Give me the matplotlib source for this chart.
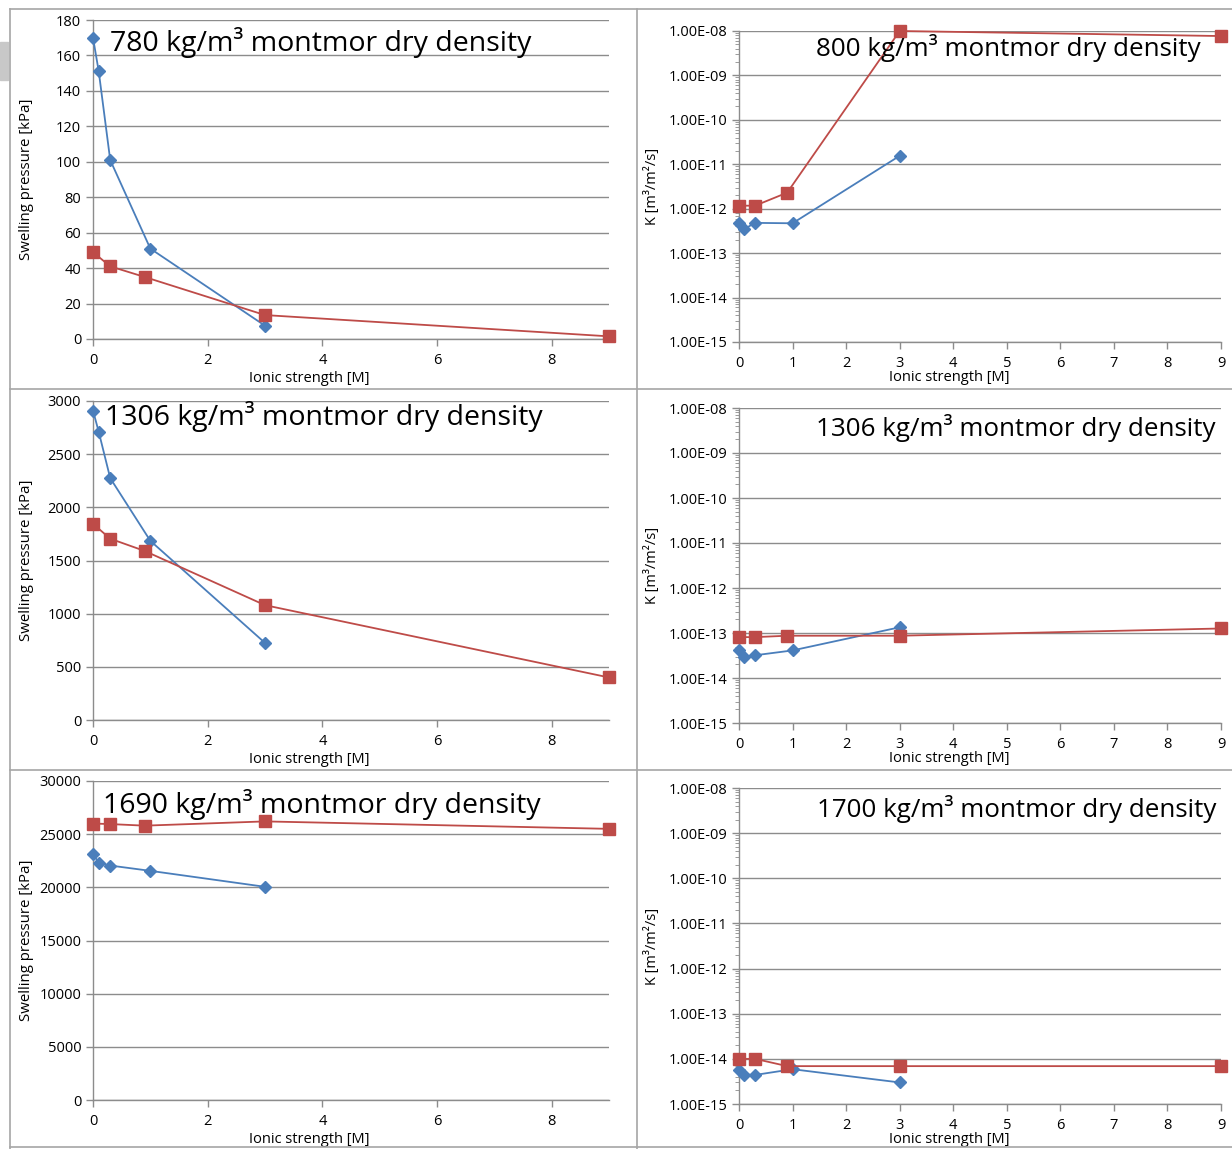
import numpy as np
import matplotlib
matplotlib.use("Agg")
import matplotlib.pyplot as plt
from matplotlib.lines import Line2D
from matplotlib.patches import Rectangle
from matplotlib.ticker import FixedLocator, LogLocator, NullFormatter, FuncFormatter

plt.rcParams['font.family'] = ['Open Sans', 'DejaVu Sans']

# ionic strength [M]
x_blue = [0, 0.1, 0.3, 1, 3]
x_red = [0, 0.3, 0.9, 3, 9]

# swelling pressure [kPa]
p780_blue = [170, 151, 101, 51, 7.5]
p780_red = [49, 41, 35, 13.5, 1.5]
p1306_blue = [2910, 2710, 2275, 1685, 725]
p1306_red = [1845, 1705, 1590, 1080, 400]
p1690_blue = [23150, 22300, 22050, 21550, 20050]
p1690_red = [26000, 25950, 25800, 26200, 25500]

# hydraulic conductivity K [m3/m2/s]
k800_blue = [4.7e-13, 3.5e-13, 4.8e-13, 4.7e-13, 1.55e-11]
k800_red = [1.17e-12, 1.17e-12, 2.3e-12, 1.0e-8, 7.7e-9]
k1306_blue = [4.1e-14, 2.9e-14, 3.2e-14, 4.1e-14, 1.34e-13]
k1306_red = [8.1e-14, 8.1e-14, 8.7e-14, 8.7e-14, 1.26e-13]
k1700_blue = [5.8e-15, 4.5e-15, 4.4e-15, 5.9e-15, 3.0e-15]
k1700_red = [1.0e-14, 1.0e-14, 6.9e-15, 6.9e-15, 6.9e-15]

titles_left = ["780 kg/m³ montmor dry density",
               "1306 kg/m³ montmor dry density",
               "1690 kg/m³ montmor dry density"]
titles_right = ["800 kg/m³ montmor dry density",
                "1306 kg/m³ montmor dry density",
                "1700 kg/m³ montmor dry density"]

W, H = 1232, 1149
BLUE = '#4a7ebb'
RED = '#be4b48'
GRID = '#8c8c8c'

fig = plt.figure(figsize=(W / 100, H / 100), dpi=100)


def px_axes(x0, y0, x1, y1):
    return fig.add_axes([x0 / W, 1 - y1 / H, (x1 - x0) / W, (y1 - y0) / H])


def style(ax, xlab_x, xlab_y):
    for s in ['top', 'right']:
        ax.spines[s].set_visible(False)
    for s in ['left', 'bottom']:
        ax.spines[s].set_color(GRID)
        ax.spines[s].set_linewidth(1.0)
    ax.tick_params(axis='both', colors=GRID, labelcolor='black', labelsize=10.5,
                   length=5, width=1.0)
    ax.tick_params(axis='x', pad=5)
    ax.grid(axis='y', color=GRID, linewidth=1.0)
    ax.set_axisbelow(True)
    ax.set_xlabel("Ionic strength [M]", fontsize=10.5)
    ax.xaxis.set_label_coords(xlab_x, xlab_y)


def plot_series(ax, xb, yb, xr, yr):
    ax.plot(xb, yb, color=BLUE, lw=1.3, marker='D', ms=6, mec=BLUE, mfc=BLUE, clip_on=False, zorder=3)
    ax.plot(xr, yr, color=RED, lw=1.3, marker='s', ms=8.5, mec=RED, mfc=RED, clip_on=False, zorder=3)


left_rows = [(20, 339), (401, 720), (781, 1100)]
right_rows = [(31, 342), (408, 723), (788, 1104)]
left_data = [(p780_blue, p780_red, 180, 20),
             (p1306_blue, p1306_red, 3000, 500),
             (p1690_blue, p1690_red, 30000, 5000)]
right_data = [(k800_blue, k800_red), (k1306_blue, k1306_red), (k1700_blue, k1700_red)]
left_title_pos = [(110, 43), (105, 417), (103, 804)]
right_title_pos = [(1201, 48), (1216, 428), (1216, 809)]

for i in range(3):
    y0, y1 = left_rows[i]
    ax = px_axes(93, y0, 609, y1)
    pb, pr, ymax, step = left_data[i]
    plot_series(ax, x_blue, pb, x_red, pr)
    ax.set_xlim(0, 9)
    ax.set_ylim(0, ymax)
    ax.set_xticks([0, 2, 4, 6, 8])
    ax.set_yticks(np.arange(0, ymax + step, step))
    style(ax, 0.419, -0.10)
    ax.set_ylabel("Swelling pressure [kPa]", fontsize=10.8)
    ax.yaxis.set_label_coords(-0.115, 0.5)
    tx, ty = left_title_pos[i]
    fig.text(tx / W, 1 - ty / H, titles_left[i], fontsize=20.5, va='center', ha='left')

    y0, y1 = right_rows[i]
    ax = px_axes(739, y0, 1221, y1)
    kb, kr = right_data[i]
    plot_series(ax, x_blue, kb, x_red, kr)
    ax.set_yscale('log')
    ax.set_xlim(0, 9)
    ax.set_ylim(1e-15, 1e-8)
    ax.set_xticks(range(10))
    ax.yaxis.set_major_locator(FixedLocator([10.0 ** e for e in range(-15, -7)]))
    ax.yaxis.set_major_formatter(FuncFormatter(lambda v, p: "1.00E-%02d" % round(-np.log10(v))))
    ax.yaxis.set_minor_locator(LogLocator(base=10, subs=np.arange(2, 10), numticks=50))
    ax.yaxis.set_minor_formatter(NullFormatter())
    style(ax, 0.436, -0.09)
    ax.tick_params(axis='y', which='minor', colors=GRID, length=3, width=0.6)
    ax.set_ylabel("K [m³/m²/s]", fontsize=10.5)
    ax.yaxis.set_label_coords(-0.163, 0.5)
    tx, ty = right_title_pos[i]
    fig.text(tx / W, 1 - ty / H, titles_right[i], fontsize=18.7, va='center', ha='right')

# panel borders
bc = '#a6a6a6'
for (xa, ya, xb, yb) in [(10, 9, W, 9), (10, 9, 10, H), (637, 9, 637, H),
                         (10, 389, W, 389), (10, 770, W, 770), (10, 1147, W, 1147)]:
    fig.add_artist(Line2D([xa / W, xb / W], [1 - ya / H, 1 - yb / H], color=bc, lw=1.2))
fig.add_artist(Rectangle((0, 1 - 80 / H), 8 / W, 38 / H, color='#c8c8c8', transform=fig.transFigure))

fig.savefig("out.png", dpi=100)
